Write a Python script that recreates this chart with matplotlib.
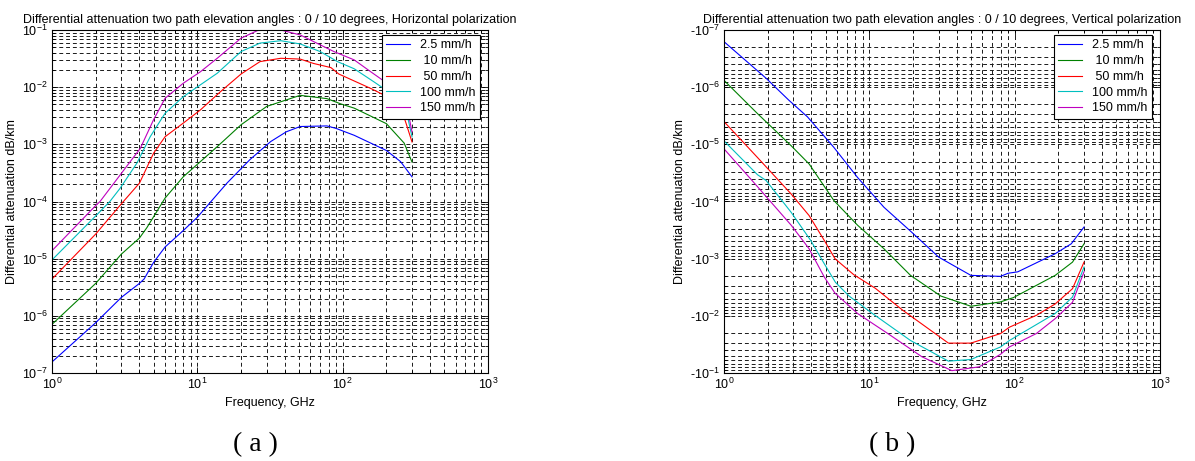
import numpy as np
import matplotlib
matplotlib.use("Agg")
import matplotlib.pyplot as plt
from matplotlib.ticker import LogLocator, NullFormatter, FuncFormatter

plt.rcParams['font.family'] = ['Liberation Sans', 'DejaVu Sans']
plt.rcParams['mathtext.fontset'] = 'custom'
plt.rcParams['mathtext.rm'] = 'Liberation Sans'
plt.rcParams['mathtext.default'] = 'regular'
plt.rcParams['font.size'] = 9

# ---------------- data: (a) horizontal polarization ----------------
labels = ["2.5 mm/h", " 10 mm/h", " 50 mm/h", "100 mm/h", "150 mm/h"]
colors = [(0, 0, 1), (0, 0.5, 0), (1, 0, 0), (0, 0.75, 0.75), (0.75, 0, 0.75)]

fa_25 = [1, 2, 3, 4, 4.3, 5, 6, 8, 10, 16, 23, 32, 41, 51, 78, 90, 120, 200, 250, 300]
va_25 = [1.56e-7, 7.6e-7, 2.1e-6, 3.7e-6, 4.4e-6, 8.6e-6, 1.6e-5, 3.1e-5, 5.3e-5, 2.1e-4,
         5.4e-4, 1.12e-3, 1.66e-3, 2.05e-3, 2.1e-3, 1.9e-3, 1.44e-3, 7.8e-4, 5.0e-4, 2.7e-4]

fa_10 = [1, 2, 3, 4, 4.5, 6, 8, 13.7, 20, 30, 51, 78, 97, 120, 200, 265, 300]
va_10 = [7.1e-7, 3.7e-6, 1.2e-5, 2.3e-5, 3.5e-5, 1.15e-4, 2.7e-4, 9.1e-4, 2.2e-3, 4.6e-3,
         7.2e-3, 6.3e-3, 5.1e-3, 4.3e-3, 2.3e-3, 1.05e-3, 4.9e-4]

fa_50 = [1, 2, 3, 4, 5, 6, 8, 10.5, 14.4, 20, 27, 37.5, 51, 63, 83, 94, 156, 203, 250, 272, 300]
va_50 = [4.4e-6, 2.7e-5, 9.1e-5, 2.1e-4, 7.0e-4, 1.36e-3, 2.35e-3, 4.0e-3, 8.3e-3, 1.7e-2,
         2.8e-2, 3.2e-2, 3.1e-2, 2.6e-2, 2.2e-2, 1.7e-2, 9.5e-3, 6.8e-3, 4.5e-3, 2.4e-3, 1.1e-3]

fa_100 = [1, 2, 2.5, 2.94, 3.84, 4.74, 6, 8, 10.5, 13.7, 20, 27, 37.5, 51, 70, 92, 120, 164,
          250, 280, 300]
va_100 = [9.5e-6, 5.6e-5, 1.0e-4, 1.7e-4, 4.7e-4, 1.36e-3, 3.5e-3, 6.8e-3, 1.1e-2, 1.75e-2,
          4.2e-2, 5.9e-2, 6.5e-2, 5.7e-2, 4.2e-2, 2.8e-2, 2.1e-2, 1.24e-2, 6.0e-3, 3.0e-3, 1.35e-3]

fa_150 = [1, 2, 2.14, 2.94, 4.05, 5, 6, 8, 10.5, 13.7, 20, 26, 37.5, 51, 70, 87, 120, 156,
          250, 280, 300]
va_150 = [1.38e-5, 8.5e-5, 1.0e-4, 2.9e-4, 8.5e-4, 2.7e-3, 6.4e-3, 1.17e-2, 1.86e-2, 3.2e-2,
          7.2e-2, 9.8e-2, 1.0e-1, 8.2e-2, 5.5e-2, 4.2e-2, 3.0e-2, 1.86e-2, 8e-3, 4e-3, 1.65e-3]

# ---------------- data: (b) vertical polarization (negative values) ----------------
fb_25 = [1, 1.95, 2.8, 3.75, 5.7, 8.3, 12.6, 19.2, 30, 50, 80, 90, 105, 190, 245, 300]
vb_25 = [-1.6e-7, -7.0e-7, -1.7e-6, -3.3e-6, -1.13e-5, -3.8e-5, -1.26e-4, -3.3e-4, -9.4e-4,
         -1.96e-3, -2.04e-3, -1.8e-3, -1.7e-3, -8.2e-4, -5.5e-4, -2.8e-4]

fb_10 = [1, 1.7, 2.9, 3.85, 5.7, 8.3, 12.6, 19.2, 31, 50, 80, 98, 190, 250, 300]
vb_10 = [-7.6e-7, -2.9e-6, -1.06e-5, -2.2e-5, -9.6e-5, -2.6e-4, -6.7e-4, -1.96e-3, -4.5e-3,
         -6.8e-3, -5.7e-3, -4.8e-3, -1.96e-3, -1.15e-3, -5.5e-4]

fb_50 = [1, 1.7, 2.9, 3.85, 4.9, 5.8, 7.8, 11, 17, 35, 50, 80, 92, 141, 190, 250, 300]
vb_50 = [-4.0e-6, -1.7e-5, -7.4e-5, -1.76e-4, -4.8e-4, -1.0e-3, -1.9e-3, -3.3e-3, -8.0e-3,
         -3.0e-2, -3.0e-2, -2.04e-2, -1.58e-2, -9.8e-3, -6.2e-3, -3.35e-3, -1.15e-3]

fb_100 = [1, 1.7, 1.95, 2.9, 3.95, 4.9, 5.85, 7.25, 10.5, 19.2, 35, 50, 80, 92, 190, 250, 300]
vb_100 = [-8.7e-6, -3.4e-5, -4.3e-5, -1.55e-4, -4.8e-4, -1.23e-3, -2.6e-3, -4.5e-3, -9.1e-3,
          -2.7e-2, -6.2e-2, -5.8e-2, -3.5e-2, -2.7e-2, -9.1e-3, -4.7e-3, -1.4e-3]

fb_150 = [1, 1.7, 2.9, 3.85, 4.9, 5.8, 8.3, 13.4, 23, 37, 57, 80, 92, 141, 190, 250, 300]
vb_150 = [-1.2e-5, -5.5e-5, -2.6e-4, -6.7e-4, -2.1e-3, -4.0e-3, -9.1e-3, -2.04e-2, -5.2e-2,
          -9.1e-2, -7.8e-2, -4.7e-2, -3.5e-2, -2.04e-2, -1.12e-2, -5.8e-3, -1.7e-3]

title_a = "Differential attenuation two path elevation angles : 0 / 10 degrees, Horizontal polarization"
title_b = "Differential attenuation two path elevation angles : 0 / 10 degrees, Vertical polarization"
xlabel = "Frequency, GHz"
ylabel = "Differential attenuation dB/km"

W, H = 1195, 461
fig = plt.figure(figsize=(W / 100, H / 100), dpi=100)


def px_axes(x0, x1, y0, y1):
    return fig.add_axes([x0 / W, 1 - y1 / H, (x1 - x0) / W, (y1 - y0) / H])


AX_W, AX_H = 436, 343
axa = px_axes(52, 52 + AX_W, 30, 30 + AX_H)
axb = px_axes(724, 724 + AX_W, 30, 30 + AX_H)

grid_kw = dict(color='0.1', linestyle=(0, (4, 3)), linewidth=0.7)


def style(ax):
    ax.set_xscale('log')
    ax.set_yscale('log')
    ax.set_xlim(1, 1000)
    ax.xaxis.set_major_locator(LogLocator(base=10, numticks=10))
    ax.xaxis.set_minor_locator(LogLocator(base=10, subs=np.arange(2, 10), numticks=20))
    ax.yaxis.set_major_locator(LogLocator(base=10, numticks=10))
    ax.yaxis.set_minor_locator(LogLocator(base=10, subs=np.arange(2, 10), numticks=20))
    ax.xaxis.set_minor_formatter(NullFormatter())
    ax.yaxis.set_minor_formatter(NullFormatter())
    ax.grid(True, which='both', **grid_kw)
    ax.tick_params(which='both', direction='in', top=True, right=True, labelsize=9,
                   width=0.6)
    ax.tick_params(which='major', length=4, pad=3)
    ax.tick_params(which='minor', length=2)
    for s in ax.spines.values():
        s.set_linewidth(0.8)
    ax.set_xlabel(xlabel, fontsize=9, labelpad=3)
    ax.set_ylabel(ylabel, fontsize=9, labelpad=3)


style(axa)
style(axb)

series_a = [(fa_25, va_25), (fa_10, va_10), (fa_50, va_50), (fa_100, va_100), (fa_150, va_150)]
for (f, v), c, lab in zip(series_a, colors, labels):
    axa.plot(f, v, color=c, lw=0.8, label=lab)
axa.set_ylim(1e-7, 1e-1)
axa.set_title(title_a, fontsize=9, pad=5)

series_b = [(fb_25, vb_25), (fb_10, vb_10), (fb_50, vb_50), (fb_100, vb_100), (fb_150, vb_150)]
for (f, v), c, lab in zip(series_b, colors, labels):
    axb.plot(f, np.negative(v), color=c, lw=0.8, label=lab)
axb.set_ylim(1e-1, 1e-7)
axb.yaxis.set_major_formatter(FuncFormatter(
    lambda y, pos: r'-$10^{%d}$' % int(round(np.log10(y)))))
axb.set_title(title_b, fontsize=9, pad=5)

for ax in (axa, axb):
    leg = ax.legend(loc='upper right', bbox_to_anchor=(1 - 8 / AX_W, 1 - 5 / AX_H),
                    borderaxespad=0, fontsize=9, frameon=True, fancybox=False,
                    edgecolor='k', framealpha=1, handlelength=1.9, handletextpad=0.8,
                    borderpad=0.35, labelspacing=0.3)
    leg.get_frame().set_linewidth(0.8)
    leg.set_zorder(5)

fig.text(255 / W, 1 - 445 / H, "( a )", family=['Liberation Serif', 'DejaVu Serif'],
         fontsize=20, ha='center', va='center')
fig.text(892 / W, 1 - 445 / H, "( b )", family=['Liberation Serif', 'DejaVu Serif'],
         fontsize=20, ha='center', va='center')

fig.savefig("out.png", dpi=100)
